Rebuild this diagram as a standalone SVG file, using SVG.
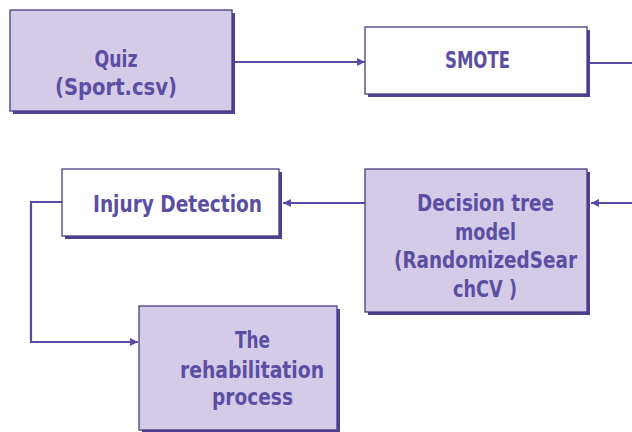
<svg xmlns="http://www.w3.org/2000/svg" width="632" height="432" viewBox="0 0 632 432">
<style>
.sh{fill:#4f3f8f}
.box{stroke:#4a3b80;stroke-width:1.3}
.fill{fill:#d4cbe9}
.white{fill:#ffffff}
.t{font-family:"DejaVu Sans Condensed","DejaVu Sans",sans-serif;font-weight:bold;font-size:23.5px;fill:#5b4ea3}
.c{fill:none;stroke:#5a4aa6;stroke-width:2.2}
</style>
<defs>
<marker id="ah" viewBox="0 0 10 10" refX="10" refY="5" markerWidth="3.6" markerHeight="3.6" markerUnits="strokeWidth" orient="auto">
<path d="M0,0 L10,5 L0,10 Z" fill="#5a4aa6"/>
</marker>
</defs>
<rect width="632" height="432" fill="#ffffff"/>
<g id="connectors">
<line class="c" x1="235" y1="62" x2="365" y2="62" marker-end="url(#ah)"/>
<line class="c" x1="590" y1="63" x2="632" y2="63"/>
<line class="c" x1="632" y1="203" x2="591" y2="203" marker-end="url(#ah)"/>
<line class="c" x1="365" y1="203" x2="283" y2="203" marker-end="url(#ah)"/>
<polyline class="c" points="62,202 31,202 31,342 138,342" marker-end="url(#ah)"/>
</g>
<g id="quiz">
<rect class="sh" x="13" y="13" width="222" height="101"/>
<rect class="box fill" x="10" y="10" width="222" height="101"/>
<text class="t" x="116" y="67" text-anchor="middle" textLength="43" lengthAdjust="spacingAndGlyphs">Quiz</text>
<text class="t" x="116" y="95" text-anchor="middle" textLength="122" lengthAdjust="spacingAndGlyphs">(Sport.csv)</text>
</g>
<g id="smote">
<rect class="sh" x="368" y="30" width="222" height="67"/>
<rect class="box white" x="365" y="27" width="222" height="67"/>
<text class="t" x="477.5" y="68" text-anchor="middle" textLength="65" lengthAdjust="spacingAndGlyphs">SMOTE</text>
</g>
<g id="decision">
<rect class="sh" x="368" y="172" width="222" height="143"/>
<rect class="box fill" x="365" y="169" width="222" height="143"/>
<text class="t" x="485.5" y="211" text-anchor="middle" textLength="137" lengthAdjust="spacingAndGlyphs">Decision tree</text>
<text class="t" x="485.5" y="240" text-anchor="middle" textLength="61" lengthAdjust="spacingAndGlyphs">model</text>
<text class="t" x="485.5" y="268" text-anchor="middle" textLength="183" lengthAdjust="spacingAndGlyphs">(RandomizedSear</text>
<text class="t" x="485" y="297" text-anchor="middle" textLength="64" lengthAdjust="spacingAndGlyphs">chCV )</text>
</g>
<g id="injury">
<rect class="sh" x="65" y="172" width="217" height="67"/>
<rect class="box white" x="62" y="169" width="217" height="67"/>
<text class="t" x="177.5" y="212" text-anchor="middle" textLength="169" lengthAdjust="spacingAndGlyphs">Injury Detection</text>
</g>
<g id="rehab">
<rect class="sh" x="142" y="309" width="198" height="124"/>
<rect class="box fill" x="139" y="306" width="198" height="124"/>
<text class="t" x="252.5" y="348" text-anchor="middle" textLength="35" lengthAdjust="spacingAndGlyphs">The</text>
<text class="t" x="252" y="378" text-anchor="middle" textLength="144" lengthAdjust="spacingAndGlyphs">rehabilitation</text>
<text class="t" x="252.5" y="405" text-anchor="middle" textLength="81" lengthAdjust="spacingAndGlyphs">process</text>
</g>
</svg>
